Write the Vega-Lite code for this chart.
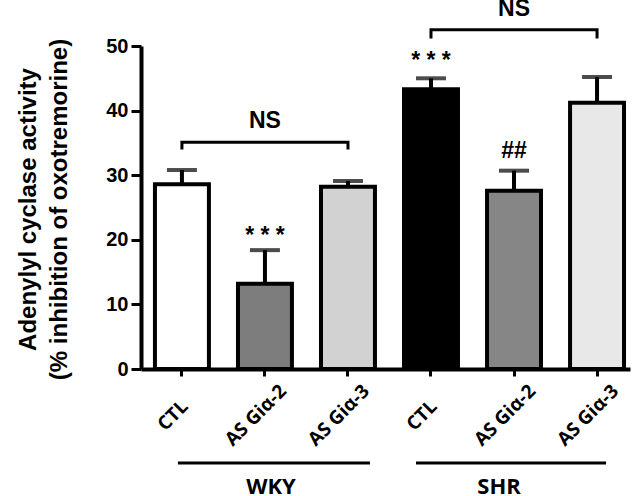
{
  "$schema": "https://vega.github.io/schema/vega-lite/v6.json",
  "autosize": {"type": "none"},
  "width": 489,
  "height": 323,
  "padding": {"left": 141, "top": 46, "right": 11, "bottom": 127},
  "background": "white",
  "config": {"view": {"stroke": null}},
  "datasets": {
    "bars": [
      {"id": "WKY CTL", "value": 28.6, "err": 30.8},
      {"id": "WKY AS Giα-2", "value": 13.2, "err": 18.4},
      {"id": "WKY AS Giα-3", "value": 28.2, "err": 29.1},
      {"id": "SHR CTL", "value": 43.3, "err": 45.0},
      {"id": "SHR AS Giα-2", "value": 27.6, "err": 30.7},
      {"id": "SHR AS Giα-3", "value": 41.2, "err": 45.2}
    ],
    "notes": [
      {"id": "WKY AS Giα-2", "y": 19.5, "txt": "* * *"},
      {"id": "SHR CTL", "y": 46.6, "txt": "* * *"},
      {"id": "SHR AS Giα-2", "y": 32.7, "txt": "##"},
      {"id": "WKY AS Giα-2", "y": 37.3, "txt": "NS"},
      {"id": "SHR AS Giα-2", "y": 54.6, "txt": "NS"}
    ],
    "brackets": [
      {"grp": "WKY", "id": "WKY CTL", "y": 34.2, "o": 1},
      {"grp": "WKY", "id": "WKY CTL", "y": 35.1, "o": 2},
      {"grp": "WKY", "id": "WKY AS Giα-3", "y": 35.1, "o": 3},
      {"grp": "WKY", "id": "WKY AS Giα-3", "y": 34.2, "o": 4},
      {"grp": "SHR", "id": "SHR CTL", "y": 51.4, "o": 1},
      {"grp": "SHR", "id": "SHR CTL", "y": 52.5, "o": 2},
      {"grp": "SHR", "id": "SHR AS Giα-3", "y": 52.5, "o": 3},
      {"grp": "SHR", "id": "SHR AS Giα-3", "y": 51.4, "o": 4}
    ],
    "groupsWKY": [{"from": "WKY CTL", "to": "WKY AS Giα-3", "mid": "WKY AS Giα-2", "y": -14.55, "ty": -19.4, "label": "WKY"}],
    "groupsSHR": [{"from": "SHR CTL", "to": "SHR AS Giα-3", "mid": "SHR AS Giα-2", "y": -14.55, "ty": -19.4, "label": "SHR"}]
  },
  "encoding": {
    "x": {
      "field": "id",
      "type": "nominal",
      "scale": {
        "domain": ["WKY CTL", "WKY AS Giα-2", "WKY AS Giα-3", "SHR CTL", "SHR AS Giα-2", "SHR AS Giα-3"],
        "paddingInner": 0.35,
        "paddingOuter": 0.12,
        "align": 0.7
      },
      "axis": {
        "title": null,
        "labelExpr": "slice(datum.label, 4)",
        "labelAngle": -45,
        "labelAlign": "center",
        "labelBaseline": "middle",
        "labelPadding": 39,
        "labelOffset": -9,
        "labelFont": "Open Sans",
        "labelFontWeight": "bold",
        "labelFontSize": 19,
        "labelColor": "black",
        "domainColor": "black",
        "domainWidth": 4,
        "tickColor": "black",
        "tickWidth": 3,
        "tickSize": 7,
        "grid": false
      }
    }
  },
  "layer": [
    {
      "data": {"name": "bars"},
      "mark": {"type": "bar", "stroke": "black", "strokeWidth": 4},
      "encoding": {
        "y": {
          "field": "value",
          "type": "quantitative",
          "scale": {"domain": [0, 50], "nice": false},
          "axis": {
            "title": ["Adenylyl cyclase activity", "(% inhibition of oxotremorine)"],
            "titleFont": "Liberation Sans",
            "titleFontWeight": "bold",
            "titleFontSize": 24,
            "titleLineHeight": 31,
            "titleColor": "black",
            "titleAngle": -90,
            "titleAlign": "center",
            "titleBaseline": "middle",
            "titleX": -113,
            "titleY": 163,
            "values": [0, 10, 20, 30, 40, 50],
            "labelFont": "Liberation Sans",
            "labelFontWeight": "bold",
            "labelFontSize": 20,
            "labelColor": "black",
            "labelPadding": 3,
            "tickSize": 10,
            "tickWidth": 3,
            "tickColor": "black",
            "domainColor": "black",
            "domainWidth": 4,
            "grid": false
          }
        },
        "fill": {
          "field": "id",
          "type": "nominal",
          "scale": {
            "domain": ["WKY CTL", "WKY AS Giα-2", "WKY AS Giα-3", "SHR CTL", "SHR AS Giα-2", "SHR AS Giα-3"],
            "range": ["#ffffff", "#7d7d7d", "#d2d2d2", "#000000", "#868686", "#e8e8e8"]
          },
          "legend": null
        }
      }
    },
    {
      "data": {"name": "bars"},
      "mark": {"type": "rule", "color": "black", "strokeWidth": 4},
      "encoding": {
        "y": {"field": "value", "type": "quantitative"},
        "y2": {"field": "err"}
      }
    },
    {
      "data": {"name": "bars"},
      "mark": {"type": "tick", "color": "black", "size": 30, "thickness": 4, "orient": "horizontal"},
      "encoding": {
        "y": {"field": "err", "type": "quantitative"}
      }
    },
    {
      "data": {"name": "notes"},
      "mark": {"type": "text", "font": "Liberation Sans", "fontWeight": "bold", "fontSize": 23, "baseline": "alphabetic", "align": "center", "color": "black"},
      "encoding": {
        "y": {"field": "y", "type": "quantitative"},
        "text": {"field": "txt"}
      }
    },
    {
      "data": {"name": "brackets"},
      "mark": {"type": "line", "color": "black", "strokeWidth": 3, "strokeCap": "square"},
      "encoding": {
        "y": {"field": "y", "type": "quantitative"},
        "order": {"field": "o"},
        "detail": {"field": "grp"}
      }
    },
    {
      "data": {"name": "groupsWKY"},
      "mark": {"type": "rule", "color": "black", "strokeWidth": 3, "xOffset": -4, "x2Offset": 22},
      "encoding": {
        "x": {"field": "from", "type": "nominal"},
        "x2": {"field": "to"},
        "y": {"field": "y", "type": "quantitative"}
      }
    },
    {
      "data": {"name": "groupsSHR"},
      "mark": {"type": "rule", "color": "black", "strokeWidth": 3, "xOffset": -15, "x2Offset": 9},
      "encoding": {
        "x": {"field": "from", "type": "nominal"},
        "x2": {"field": "to"},
        "y": {"field": "y", "type": "quantitative"}
      }
    },
    {
      "data": {"name": "groupsWKY"},
      "mark": {"type": "text", "font": "Open Sans", "fontWeight": "bold", "fontSize": 22, "baseline": "alphabetic", "align": "center", "color": "black", "dx": 6},
      "encoding": {
        "x": {"field": "mid", "type": "nominal"},
        "y": {"field": "ty", "type": "quantitative"},
        "text": {"field": "label"}
      }
    },
    {
      "data": {"name": "groupsSHR"},
      "mark": {"type": "text", "font": "Open Sans", "fontWeight": "bold", "fontSize": 22, "baseline": "alphabetic", "align": "center", "color": "black", "dx": -15},
      "encoding": {
        "x": {"field": "mid", "type": "nominal"},
        "y": {"field": "ty", "type": "quantitative"},
        "text": {"field": "label"}
      }
    }
  ]
}
